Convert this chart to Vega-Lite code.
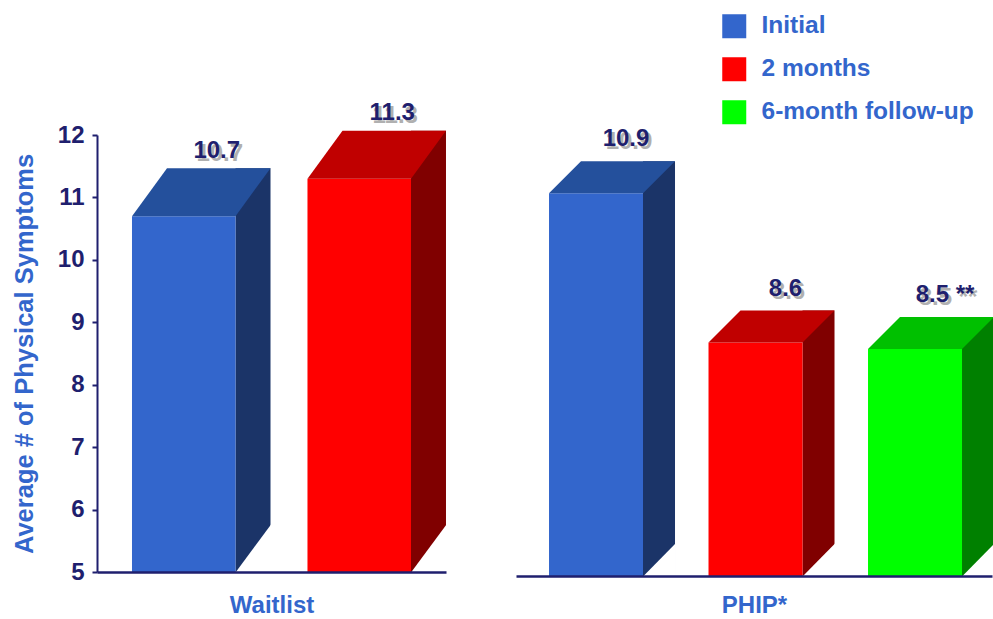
{
  "$schema": "https://vega.github.io/schema/vega-lite/v6.json",
  "autosize": {"type": "pad"},
  "padding": {"left": 12, "top": 14, "right": 0, "bottom": 5},
  "background": "white",
  "config": {"view": {"stroke": null}, "font": "Liberation Sans"},
  "spacing": 70,
  "bounds": "flush",
  "datasets": {
    "d": [
      {"group": "Waitlist", "time": "Initial", "value": 10.7, "label": "10.7"},
      {"group": "Waitlist", "time": "2 months", "value": 11.3, "label": "11.3"},
      {"group": "PHIP*", "time": "Initial", "value": 10.9, "label": "10.9"},
      {"group": "PHIP*", "time": "2 months", "value": 8.6, "label": "8.6"},
      {"group": "PHIP*", "time": "6-month follow-up", "value": 8.5, "label": "8.5 **"}
    ]
  },
  "resolve": {"scale": {"x": "independent", "y": "independent"}},
  "hconcat": [
    {
      "width": 349,
      "height": 437,
      "data": {"name": "d"},
      "transform": [{"filter": "datum.group === 'Waitlist'"}],
      "encoding": {
        "x": {
          "field": "time", "type": "nominal",
          "sort": ["Initial", "2 months", "6-month follow-up"],
          "scale": {"paddingInner": 0.41, "paddingOuter": 0.1994},
          "axis": {"title": "Waitlist", "labels": false, "ticks": false, "domainColor": "#1F1F6E", "domainWidth": 2.5, "titleColor": "#3366CC", "titleFontSize": 24, "titleFontWeight": "bold", "titlePadding": 21, "zindex": 1}
        },
        "y": {
          "field": "value", "type": "quantitative",
          "scale": {"domain": [5, 12], "nice": false, "zero": false},
          "axis": {"title": "Average # of Physical Symptoms", "values": [5, 6, 7, 8, 9, 10, 11, 12], "format": "d", "grid": false, "domainColor": "#1F1F6E", "domainWidth": 2, "tickColor": "#1F1F6E", "tickSize": 5, "tickWidth": 2, "labelColor": "#1F1F6E", "labelFontSize": 24, "labelFontWeight": "bold", "labelPadding": 8, "titleColor": "#3366CC", "titleFontSize": 25.5, "titleFontWeight": "bold", "titlePadding": 20, "zindex": 1}
        }
      },
      "layer": [
        {
          "mark": {"type": "bar", "width": 35, "xOffset": 69.25, "yOffset": -48, "y2Offset": 0},
          "encoding": {
            "y2": {"datum": 5},
            "fill": {"condition": [{"test": "datum.time === 'Initial'", "value": "#1B3468"}, {"test": "datum.time === '2 months'", "value": "#800000"}], "value": "#008000"}
          }
        },
        {
          "mark": {"type": "point", "shape": "M51.75,0.5L88,0.5L88,-48.5Z", "size": 4, "filled": true, "fill": "white", "opacity": 1, "strokeWidth": 0},
          "encoding": {"y": {"datum": 5}}
        },
        {
          "mark": {"type": "bar"},
          "encoding": {
            "y2": {"datum": 5},
            "color": {
              "field": "time", "type": "nominal",
              "scale": {"domain": ["Initial", "2 months", "6-month follow-up"], "range": ["#3366CC", "#FF0000", "#00FF00"]},
              "legend": {"orient": "none", "legendX": 625, "legendY": -121, "title": null, "symbolType": "square", "symbolSize": 576, "symbolStrokeWidth": 0, "symbolOpacity": 1, "labelFontSize": 24.5, "labelFontWeight": "bold", "labelColor": "#3366CC", "labelOffset": 15, "labelLimit": 0, "rowPadding": 17, "padding": 0}
            }
          }
        },
        {
          "mark": {"type": "point", "shape": "M-51.75,0L51.75,0L86.75,-48L-16.75,-48Z", "size": 4, "filled": true, "opacity": 1, "strokeWidth": 0},
          "encoding": {
            "fill": {"condition": [{"test": "datum.time === 'Initial'", "value": "#24509C"}, {"test": "datum.time === '2 months'", "value": "#C00000"}], "value": "#00C000"}
          }
        },
        {
          "mark": {"type": "text", "fontSize": 24, "fontWeight": "bold", "color": "#B0B0B0", "dx": 36, "dy": -55.5, "baseline": "alphabetic"},
          "encoding": {"text": {"field": "label"}}
        },
        {
          "mark": {"type": "text", "fontSize": 24, "fontWeight": "bold", "color": "#1F1F6E", "dx": 33, "dy": -58.5, "baseline": "alphabetic"},
          "encoding": {"text": {"field": "label"}}
        }
      ]
    },
    {
      "width": 476,
      "height": 441,
      "data": {"name": "d"},
      "transform": [{"filter": "datum.group === 'PHIP*'"}],
      "encoding": {
        "x": {
          "field": "time", "type": "nominal",
          "sort": ["Initial", "2 months", "6-month follow-up"],
          "scale": {"paddingInner": 0.4107, "paddingOuter": 0.1975, "align": 0.524},
          "axis": {"title": "PHIP*", "labels": false, "ticks": false, "domainColor": "#1F1F6E", "domainWidth": 2.5, "titleColor": "#3366CC", "titleFontSize": 24, "titleFontWeight": "bold", "titlePadding": 17, "zindex": 1}
        },
        "y": {
          "field": "value", "type": "quantitative",
          "scale": {"domain": [5, 11.8], "nice": false, "zero": false},
          "axis": null
        }
      },
      "layer": [
        {
          "mark": {"type": "bar", "width": 32, "xOffset": 63, "yOffset": -32, "y2Offset": 0},
          "encoding": {
            "y2": {"datum": 5},
            "fill": {"condition": [{"test": "datum.time === 'Initial'", "value": "#1B3468"}, {"test": "datum.time === '2 months'", "value": "#800000"}], "value": "#008000"}
          }
        },
        {
          "mark": {"type": "point", "shape": "M47,0.5L79.5,0.5L79.5,-32.5Z", "size": 4, "filled": true, "fill": "white", "opacity": 1, "strokeWidth": 0},
          "encoding": {"y": {"datum": 5}}
        },
        {
          "mark": {"type": "bar"},
          "encoding": {
            "y2": {"datum": 5},
            "color": {
              "field": "time", "type": "nominal",
              "scale": {"domain": ["Initial", "2 months", "6-month follow-up"], "range": ["#3366CC", "#FF0000", "#00FF00"]},
              "legend": {"orient": "none", "legendX": 625, "legendY": -121, "title": null, "symbolType": "square", "symbolSize": 576, "symbolStrokeWidth": 0, "symbolOpacity": 1, "labelFontSize": 24.5, "labelFontWeight": "bold", "labelColor": "#3366CC", "labelOffset": 15, "labelLimit": 0, "rowPadding": 17, "padding": 0}
            }
          }
        },
        {
          "mark": {"type": "point", "shape": "M-47,0L47,0L79,-32L-15,-32Z", "size": 4, "filled": true, "opacity": 1, "strokeWidth": 0},
          "encoding": {
            "fill": {"condition": [{"test": "datum.time === 'Initial'", "value": "#24509C"}, {"test": "datum.time === '2 months'", "value": "#C00000"}], "value": "#00C000"}
          }
        },
        {
          "mark": {"type": "text", "fontSize": 24, "fontWeight": "bold", "color": "#B0B0B0", "dx": 33, "dy": -44, "baseline": "alphabetic"},
          "encoding": {"text": {"field": "label"}}
        },
        {
          "mark": {"type": "text", "fontSize": 24, "fontWeight": "bold", "color": "#1F1F6E", "dx": 30, "dy": -47, "baseline": "alphabetic"},
          "encoding": {"text": {"field": "label"}}
        }
      ]
    }
  ]
}
